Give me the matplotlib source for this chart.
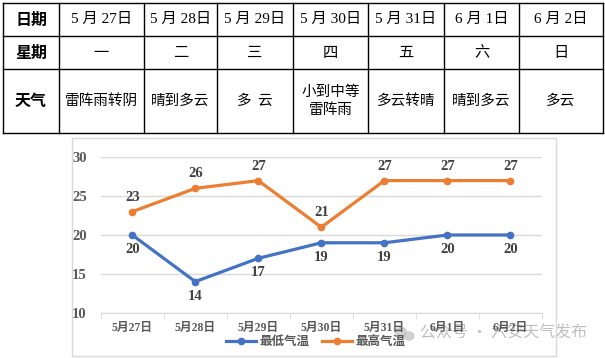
import matplotlib
matplotlib.use("Agg")
import matplotlib.pyplot as plt
from matplotlib.patches import Rectangle, Ellipse

# table data
row_heads = ["日期", "星期", "天气"]
dates = ["5 月 27日", "5 月 28日", "5 月 29日", "5 月 30日", "5 月 31日", "6 月 1日", "6 月 2日"]
weekdays = ["一", "二", "三", "四", "五", "六", "日"]
weather = ["雷阵雨转阴", "晴到多云", "多  云", "小到中等\n雷阵雨", "多云转晴", "晴到多云", "多云"]

# chart data
days = ["5月27日", "5月28日", "5月29日", "5月30日", "5月31日", "6月1日", "6月2日"]
t_min = [20, 14, 17, 19, 19, 20, 20]
t_max = [23, 26, 27, 21, 27, 27, 27]

W, H = 605, 358
SANS = ["Noto Sans CJK SC", "DejaVu Sans"]
SERIF = ["Liberation Serif", "Noto Sans CJK SC"]

fig = plt.figure(figsize=(W / 100, H / 100), dpi=100)

# overlay in pixel coords for the table and the chart frame
bg = fig.add_axes([0, 0, 1, 1])
bg.set_xlim(0, W)
bg.set_ylim(H, 0)
bg.axis("off")

col_x = [3, 59, 144, 217, 293, 368, 444, 519, 603]
row_y = [3, 36, 69, 133]
for x in col_x:
    bg.plot([x, x], [row_y[0], row_y[-1]], color="black", lw=1.0)
for y in row_y:
    bg.plot([col_x[0], col_x[-1]], [y, y], color="black", lw=1.0)

for r, head in enumerate(row_heads):
    cy = (row_y[r] + row_y[r + 1]) / 2
    bg.text((col_x[0] + col_x[1]) / 2, cy, head, ha="center", va="center",
            fontsize=11.5, fontweight="bold", family=SANS)

for i in range(len(dates)):
    cx = (col_x[i + 1] + col_x[i + 2]) / 2
    bg.text(cx, (row_y[0] + row_y[1]) / 2, dates[i], ha="center", va="center",
            fontsize=11, family=SERIF)
    bg.text(cx, (row_y[1] + row_y[2]) / 2, weekdays[i], ha="center", va="center",
            fontsize=11, family=SANS)
    bg.text(cx, (row_y[2] + row_y[3]) / 2, weather[i], ha="center", va="center",
            fontsize=10.5, family=SANS, linespacing=1.35)

# chart frame
bg.add_patch(Rectangle((72, 138), 484, 218, fill=False, edgecolor="#D9D9D9", lw=1.0))

# line chart
ax = fig.add_axes([100.7 / W, (H - 312.7) / H, (542 - 100.7) / W, (312.7 - 157.3) / H])
xs = [i + 0.5 for i in range(len(days))]
ax.plot(xs, t_min, color="#4472C4", lw=2.3, marker="o", ms=4.5, label="最低气温")
ax.plot(xs, t_max, color="#ED7D31", lw=2.3, marker="o", ms=4.5, label="最高气温")

for x, v in zip(xs, t_max):
    ax.annotate(str(v), (x, v), xytext=(0, 10.5), textcoords="offset points",
                ha="center", va="center", fontsize=10.5, fontweight="bold",
                family=SERIF, color="#404040")
for x, v in zip(xs, t_min):
    ax.annotate(str(v), (x, v), xytext=(0, -10.5), textcoords="offset points",
                ha="center", va="center", fontsize=10.5, fontweight="bold",
                family=SERIF, color="#404040")

ax.set_xlim(0, len(days))
ax.set_ylim(10, 30)
ax.set_yticks([10, 15, 20, 25, 30])
ax.set_yticklabels(["10", "15", "20", "25", "30"], family=SERIF, fontsize=10.5,
                   fontweight="bold", color="#595959")
ax.tick_params(axis="y", length=0, pad=10)
ax.set_xticks(xs)
ax.set_xticklabels(days, family=SERIF, fontsize=8.5, fontweight="bold", color="#595959")
ax.tick_params(axis="x", which="major", length=0, pad=7)
ax.set_xticks(range(len(days) + 1), minor=True)
ax.tick_params(axis="x", which="minor", length=4, color="#D9D9D9", direction="out")
ax.grid(axis="y", color="#D9D9D9", lw=1.0)
ax.set_axisbelow(True)
for s in ["top", "right", "left"]:
    ax.spines[s].set_visible(False)
ax.spines["bottom"].set_color("#D9D9D9")
ax.patch.set_alpha(0)

fig.legend(loc="center", bbox_to_anchor=(316 / W, 1 - 342 / H), ncol=2, frameon=False,
           prop={"family": SERIF, "size": 9, "weight": "bold"}, handlelength=2.4,
           columnspacing=1.0, handletextpad=0.3, labelcolor="#595959")

# watermark
bg.add_patch(Ellipse((401, 332), 11, 9, color="#C8C8C8", alpha=0.8))
bg.add_patch(Ellipse((409, 336), 10, 8, color="#C8C8C8", alpha=0.8))
bg.text(420, 333, "公众号 · 六安天气发布", ha="left", va="center", fontsize=11.5,
        family=SANS, color="#B8B8B8", alpha=0.9)

fig.savefig("out.png", dpi=100)
